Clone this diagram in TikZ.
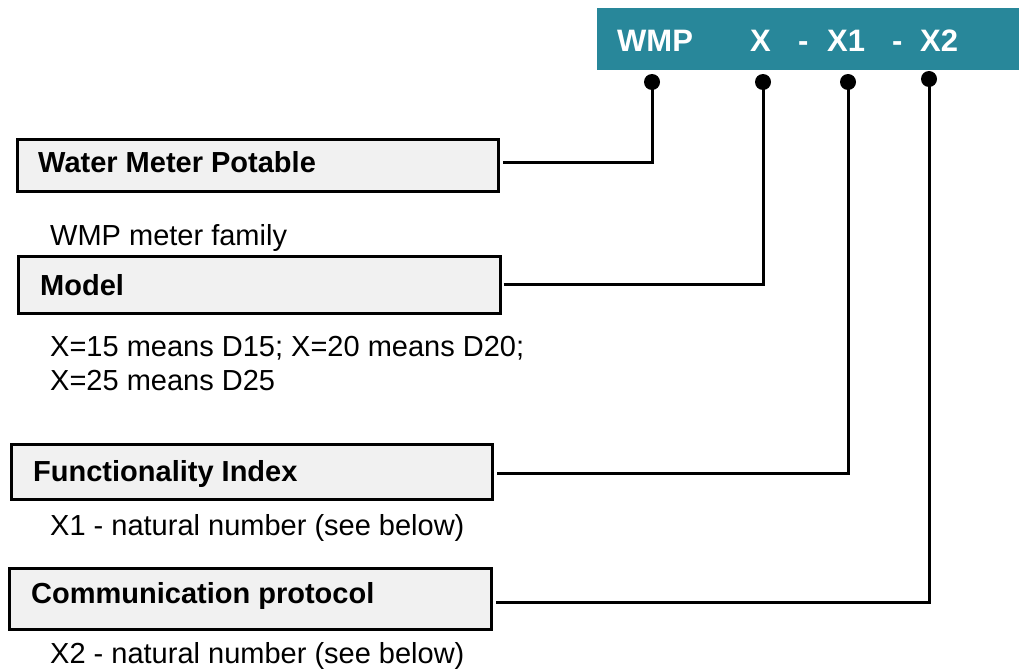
\documentclass[tikz,border=0pt]{standalone}
\usepackage{fontspec}
\setmainfont{Liberation Sans}
\definecolor{codeteal}{HTML}{28879A}
\definecolor{boxfill}{HTML}{F1F1F1}
\begin{document}
\begin{tikzpicture}[x=1pt,y=-1pt,
  fieldbox/.style={draw=black, line width=3pt, fill=boxfill, anchor=north west, inner sep=0pt},
  boxlabel/.style={anchor=base west, inner sep=0pt, font=\fontsize{29}{34}\selectfont\bfseries},
  note/.style={anchor=base west, inner sep=0pt, align=left, font=\fontsize{29}{34}\selectfont},
  codepart/.style={anchor=base west, inner sep=0pt, text=white, font=\fontsize{31}{36}\selectfont\bfseries},
  pin/.style={circle, fill=black, inner sep=0pt, minimum size=16pt},
  conn/.style={line width=3pt}]
\useasboundingbox (0,0) rectangle (1019,669);

% product code banner
\node[fill=codeteal, anchor=north west, inner sep=0pt, minimum width=422pt, minimum height=62pt] (code) at (597,8) {};
\node[codepart] (cwmp) at (617,52) {WMP};
\node[codepart] (cx) at (750,52) {X};
\node[codepart] (cd1) at (798,52) {-};
\node[codepart] (cx1) at (827,52) {X1};
\node[codepart] (cd2) at (892,52) {-};
\node[codepart] (cx2) at (920,52) {X2};

% field boxes
\node[fieldbox, minimum width=481pt, minimum height=52pt] (wmp) at (16,138) {};
\node[boxlabel] (wmptext) at (38,172) {Water Meter Potable};
\node[note] (wmpnote) at (50,245) {WMP meter family};

\node[fieldbox, minimum width=482pt, minimum height=57pt] (model) at (17,255) {};
\node[boxlabel] (modeltext) at (40,295) {Model};
\node[note] (modelnote1) at (50,356) {X=15 means D15; X=20 means D20;};
\node[note] (modelnote2) at (50,390) {X=25 means D25};

\node[fieldbox, minimum width=481pt, minimum height=55pt] (func) at (10,443) {};
\node[boxlabel] (functext) at (33,481) {Functionality Index};
\node[note] (funcnote) at (50,535) {X1 - natural number (see below)};

\node[fieldbox, minimum width=482pt, minimum height=61pt] (comm) at (8,567) {};
\node[boxlabel] (commtext) at (31,603) {Communication protocol};
\node[note] (commnote) at (50,663) {X2 - natural number (see below)};

% connectors from each field to its position in the code
\node[pin] (p1) at (652,82) {};
\node[pin] (p2) at (763,82) {};
\node[pin] (p3) at (848,82) {};
\node[pin] (p4) at (929,79) {};

\draw[conn] ([xshift=3pt,yshift=3pt]wmp.east) -| (p1.center);
\draw[conn] ([xshift=1.5pt,yshift=0.5pt]model.east) -| (p2.center);
\draw[conn] ([xshift=3pt,yshift=-1.5pt]func.east) -| (p3.center);
\draw[conn] ([xshift=3pt,yshift=-3.5pt]comm.east) -| (p4.center);
\end{tikzpicture}
\end{document}
